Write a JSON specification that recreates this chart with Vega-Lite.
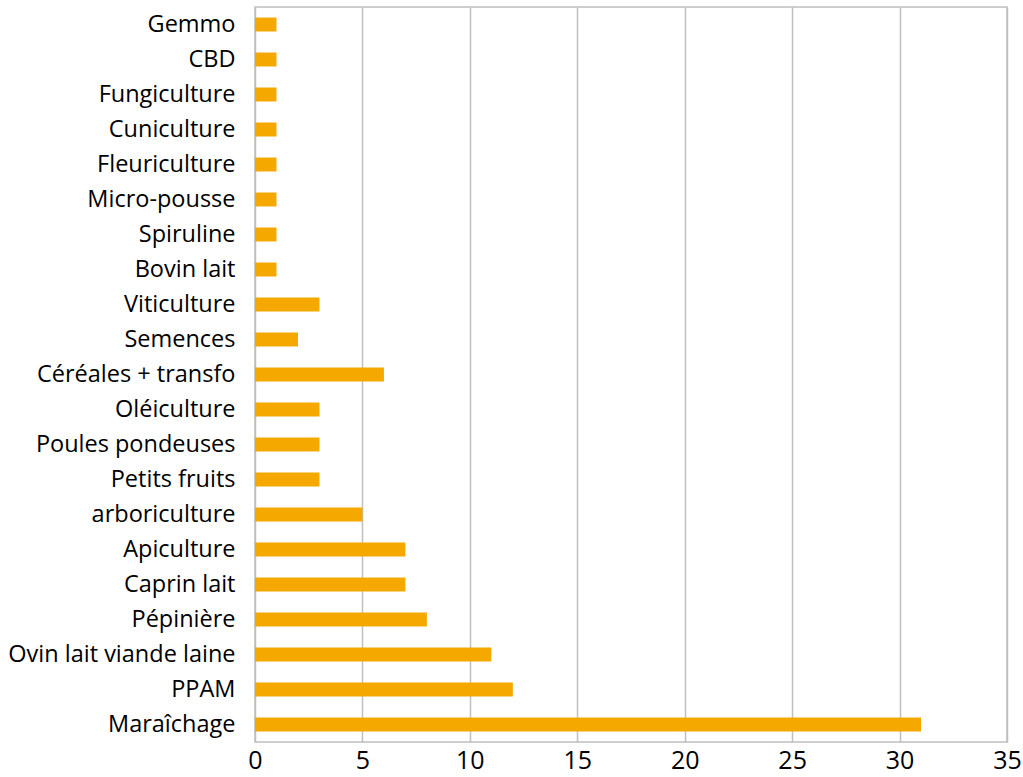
{
  "$schema": "https://vega.github.io/schema/vega-lite/v6.json",
  "width": 752,
  "height": 735,
  "autosize": {"type": "none"},
  "padding": {"left": 255, "top": 7, "right": 16, "bottom": 35},
  "background": "white",
  "config": {
    "view": {"stroke": "#BFBFBF", "strokeWidth": 1.5},
    "font": "Open Sans"
  },
  "data": {"values": [
    {"cat": "Gemmo", "v": 1},
    {"cat": "CBD", "v": 1},
    {"cat": "Fungiculture", "v": 1},
    {"cat": "Cuniculture", "v": 1},
    {"cat": "Fleuriculture", "v": 1},
    {"cat": "Micro-pousse", "v": 1},
    {"cat": "Spiruline", "v": 1},
    {"cat": "Bovin lait", "v": 1},
    {"cat": "Viticulture", "v": 3},
    {"cat": "Semences", "v": 2},
    {"cat": "Céréales + transfo", "v": 6},
    {"cat": "Oléiculture", "v": 3},
    {"cat": "Poules pondeuses", "v": 3},
    {"cat": "Petits fruits", "v": 3},
    {"cat": "arboriculture", "v": 5},
    {"cat": "Apiculture", "v": 7},
    {"cat": "Caprin lait", "v": 7},
    {"cat": "Pépinière", "v": 8},
    {"cat": "Ovin lait viande laine", "v": 11},
    {"cat": "PPAM", "v": 12},
    {"cat": "Maraîchage", "v": 31}
  ]},
  "mark": {"type": "bar", "color": "#F5A800"},
  "encoding": {
    "y": {
      "field": "cat", "type": "nominal", "sort": null,
      "scale": {"paddingInner": 0.6, "paddingOuter": 0.3},
      "axis": {"title": null, "ticks": false, "domain": false, "labelFontSize": 23.5, "labelColor": "#000000", "labelPadding": 20, "labelLimit": 300}
    },
    "x": {
      "field": "v", "type": "quantitative",
      "scale": {"domain": [0, 35], "nice": false},
      "axis": {"title": null, "values": [0,5,10,15,20,25,30,35], "ticks": false, "domain": false, "grid": true, "gridColor": "#BFBFBF", "gridWidth": 1.5, "labelFontSize": 25, "labelColor": "#000000", "labelPadding": 6, "labelFlush": false}
    }
  }
}
